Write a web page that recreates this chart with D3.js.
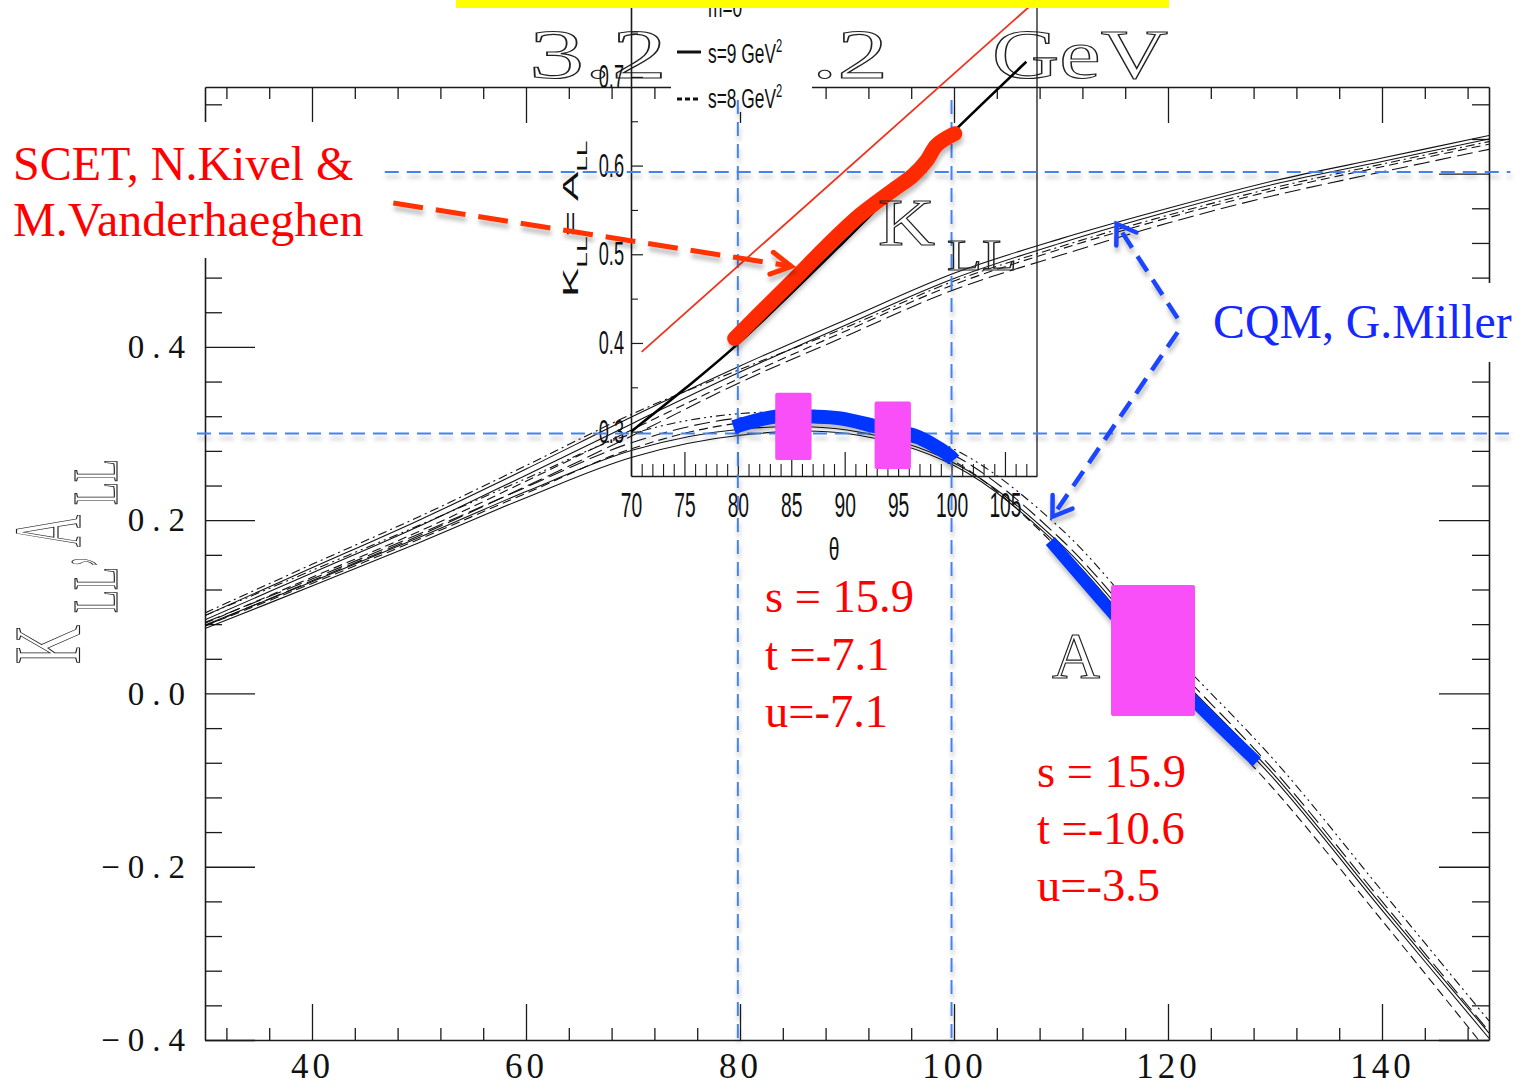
<!DOCTYPE html>
<html>
<head>
<meta charset="utf-8">
<title>K_LL and A_LL versus scattering angle</title>
<script src="https://cdn.jsdelivr.net/npm/d3@7/dist/d3.min.js"></script>
<style>
  html, body { margin: 0; padding: 0; background: #ffffff; }
  svg { display: block; }
</style>
</head>
<body>
<svg id="chart" width="1522" height="1086"></svg>
<script>
// ---------------------------------------------------------------
// Model curves: scattering angle grid (degrees) and K_LL / A_LL values
// ---------------------------------------------------------------
const thetaGrid = [30, 40, 50, 60, 70, 80, 90, 100, 110, 120, 130, 140, 150];

const kllSolidA   = [0.090, 0.145, 0.200, 0.259, 0.320, 0.378, 0.432, 0.485, 0.525, 0.560, 0.592, 0.618, 0.644];
const kllSolidB   = [0.085, 0.139, 0.193, 0.252, 0.312, 0.371, 0.426, 0.479, 0.520, 0.556, 0.588, 0.614, 0.640];
const kllDashed   = [0.081, 0.134, 0.187, 0.245, 0.305, 0.364, 0.419, 0.472, 0.513, 0.549, 0.581, 0.608, 0.634];
const kllDashDot  = [0.093, 0.149, 0.204, 0.263, 0.323, 0.374, 0.423, 0.476, 0.516, 0.552, 0.584, 0.611, 0.637];
const kllLongDash = [0.078, 0.130, 0.182, 0.239, 0.298, 0.359, 0.413, 0.466, 0.506, 0.543, 0.575, 0.602, 0.628];

const allSolidA   = [0.075, 0.124, 0.174, 0.226, 0.273, 0.298, 0.300, 0.263, 0.168, 0.028, -0.100, -0.250, -0.398];
const allSolidB   = [0.079, 0.129, 0.180, 0.233, 0.281, 0.305, 0.304, 0.266, 0.172, 0.033, -0.095, -0.245, -0.392];
const allDashed   = [0.078, 0.127, 0.178, 0.231, 0.283, 0.312, 0.310, 0.268, 0.164, 0.020, -0.112, -0.262, -0.415];
const allDashDot  = [0.090, 0.142, 0.194, 0.248, 0.300, 0.323, 0.320, 0.282, 0.190, 0.052, -0.078, -0.228, -0.378];
const allLongDash = [0.082, 0.132, 0.184, 0.238, 0.290, 0.318, 0.315, 0.275, 0.178, 0.040, -0.090, -0.240, -0.390];

// Main axes ticks
const xMajor = [40, 60, 80, 100, 120, 140];
const xTickLabels = ['40', '60', '80', '100', '120', '140'];
const yMajor = [-0.4, -0.2, 0, 0.2, 0.4, 0.6];
const yTickLabels = ['\u22120.4', '\u22120.2', '0.0', '0.2', '0.4', ''];

// Inset (K_LL = A_LL near 90 degrees)
const insetXMajor = [70, 75, 80, 85, 90, 95, 100, 105];
const insetXLabels = ['70', '75', '80', '85', '90', '95', '100', '105'];
const insetYMajor = [0.3, 0.4, 0.5, 0.6, 0.7];
const insetYLabels = ['0.3', '0.4', '0.5', '0.6', '0.7'];
const insetYMinor = [0.35, 0.45, 0.55, 0.65, 0.75];

const insetS9Theta = [70, 75, 80, 90, 100, 107];
const insetS9Value = [0.300, 0.348, 0.399, 0.515, 0.636, 0.717];
const insetRedTheta = [71, 108];
const insetRedValue = [0.390, 0.787];

// Highlighted bands
const scetTheta = [79.7, 82.1, 85.2, 88.3, 91.4, 94.6, 96.4, 97.7, 98.6, 100.3];
const scetValue = [0.405, 0.434, 0.471, 0.509, 0.544, 0.573, 0.589, 0.606, 0.623, 0.636];
const cqmInsetTheta = [79.6, 83.5, 87.1, 89.6, 92.9, 96.4, 98.3, 99.9, 100.2];
const cqmInsetValue = [0.305, 0.317, 0.317, 0.315, 0.306, 0.296, 0.285, 0.272, 0.268];
const cqmMainTheta = [109.0, 120.0, 128.3];
const cqmMainValue = [0.176, 0.022, -0.079];

// Projected measurements (centre angle, angular width, centre value, half height)
const boxTheta = [85.2, 94.5, 118.6];
const boxWidth = [3.4, 3.4, 7.85];
const boxValue = [0.306, 0.296, 0.0495];
const boxHalf  = [0.038, 0.038, 0.0756];
const boxFrame = ['inset', 'inset', 'main'];

// Guide lines (vertical ones sit on the inset angle ticks)
const guideTheta = [80, 100];
const guideThetaSpan = [0.685, -0.406];
const guideValue = [0.602, 0.3];
const guideValueStart = [46.8, 29.25];
const guideValueEnd = 152;

// Annotation arrows: [theta, value] pairs, from -> tip
const scetArrow = [[47.6, 0.566], [84.8, 0.493]];
const cqmArrowUp = [[120.9, 0.433], [115.2, 0.542]];
const cqmArrowDown = [[120.9, 0.417], [109.2, 0.204]];

// Kinematics labels
const kinematicsLeft = ['s = 15.9', 't =-7.1', 'u=-7.1'];
const kinematicsRight = ['s = 15.9', 't =-10.6', 'u=-3.5'];

// ---------------------------------------------------------------
const MAIN = { left: 205, right: 1489, top: 87, bottom: 1040 };
const x = d3.scaleLinear().domain([30, 150]).range([MAIN.left, MAIN.right]);
const y = d3.scaleLinear().domain([-0.4, 0.7]).range([MAIN.bottom, MAIN.top]);

const INSET = { left: 631, right: 1037, top: 0, bottom: 476 };
const xi = d3.scaleLinear().domain([70, 108]).range([INSET.left, INSET.right]);
const yi = d3.scaleLinear().domain([0.25, 0.7867]).range([INSET.bottom, INSET.top]);

const svg = d3.select('#chart');
svg.append('rect').attr('width', 1522).attr('height', 1086).attr('fill', '#fff');
const defs = svg.append('defs');
defs.append('clipPath').attr('id', 'mainClip').append('rect')
  .attr('x', MAIN.left).attr('y', MAIN.top)
  .attr('width', MAIN.right - MAIN.left).attr('height', MAIN.bottom - MAIN.top);
const shadow = defs.append('filter').attr('id', 'softShadow')
  .attr('filterUnits', 'userSpaceOnUse')
  .attr('x', 0).attr('y', 0).attr('width', 1522).attr('height', 1086);
shadow.append('feDropShadow').attr('dx', 1).attr('dy', 5).attr('stdDeviation', 2.2)
  .attr('flood-color', '#000').attr('flood-opacity', 0.25);

const INK = '#1b1b1b';
const SERIF = "'Liberation Serif', 'Times New Roman', serif";
const SANS = "'Liberation Sans', Arial, sans-serif";

function drawAxis(axis, tx, ty, opts = {}) {
  const g = svg.append('g').attr('transform', `translate(${tx},${ty})`).call(axis);
  g.selectAll('.tick line').attr('stroke', INK).attr('stroke-width', opts.tw || 1.3);
  if (opts.noDomain) g.select('.domain').remove();
  else g.select('.domain').attr('stroke', INK).attr('stroke-width', opts.dw || 1.6);
  return g;
}

// ---------------- main frame and ticks ----------------
const xMinor = d3.range(32, 150, 4).filter(v => !xMajor.includes(v));
const yMinor = d3.range(1, 28).filter(i => i % 5 !== 0).map(i => +(-0.4 + 0.04 * i).toFixed(2));

const gBottom = drawAxis(d3.axisBottom(x).tickValues(xMajor).tickSize(-36).tickSizeOuter(0)
  .tickPadding(13).tickFormat(d => xTickLabels[xMajor.indexOf(d)]), 0, MAIN.bottom);
gBottom.selectAll('text').attr('font-family', SERIF).attr('font-size', 35)
  .attr('letter-spacing', 4).attr('fill', '#111');
drawAxis(d3.axisBottom(x).tickValues(xMinor).tickSize(-12).tickFormat(''), 0, MAIN.bottom, { noDomain: true });

drawAxis(d3.axisTop(x).tickValues(xMajor).tickSize(-36).tickSizeOuter(0).tickFormat(''), 0, MAIN.top);
drawAxis(d3.axisTop(x).tickValues(xMinor).tickSize(-12).tickFormat(''), 0, MAIN.top, { noDomain: true });

const gLeft = drawAxis(d3.axisLeft(y).tickValues(yMajor).tickSize(-50).tickSizeOuter(0)
  .tickPadding(12).tickFormat(d => yTickLabels[yMajor.indexOf(d)]), MAIN.left, 0);
gLeft.selectAll('text').attr('font-family', SERIF).attr('font-size', 33)
  .attr('letter-spacing', 8).attr('fill', '#111');
gLeft.selectAll('text').filter(function () { return this.textContent === ''; }).remove();
drawAxis(d3.axisLeft(y).tickValues(yMinor).tickSize(-17).tickFormat(''), MAIN.left, 0, { noDomain: true });

drawAxis(d3.axisRight(y).tickValues(yMajor).tickSize(-50).tickSizeOuter(0).tickFormat(''), MAIN.right, 0);
drawAxis(d3.axisRight(y).tickValues(yMinor).tickSize(-17).tickFormat(''), MAIN.right, 0, { noDomain: true });

// ---------------- model curves ----------------
const curveLine = d3.line()
  .x((d, i) => x(thetaGrid[i]))
  .y(d => y(d))
  .curve(d3.curveCatmullRom.alpha(0.5));

const modelSeries = [
  { v: kllSolidA, dash: null }, { v: kllSolidB, dash: null },
  { v: kllDashed, dash: '9,5' }, { v: kllDashDot, dash: '9,4,2,4' },
  { v: kllLongDash, dash: '16,6' },
  { v: allSolidA, dash: null }, { v: allSolidB, dash: null },
  { v: allDashed, dash: '9,5' }, { v: allDashDot, dash: '9,4,2,4,2,4' },
  { v: allLongDash, dash: '16,6' }
];
svg.append('g').attr('clip-path', 'url(#mainClip)')
  .selectAll('path').data(modelSeries).join('path')
  .attr('d', d => curveLine(d.v))
  .attr('fill', 'none').attr('stroke', '#111').attr('stroke-width', 1.1)
  .attr('stroke-dasharray', d => d.dash);

// ---------------- big outlined title glyphs ----------------
function outlinedText(parent, str, px, py, size, len) {
  const t = parent.append('text').attr('x', px).attr('y', py)
    .attr('font-family', SERIF).attr('font-size', size)
    .attr('fill', 'none').attr('stroke', '#222').attr('stroke-width', 1.15)
    .text(str);
  if (len) t.attr('textLength', len).attr('lengthAdjust', 'spacingAndGlyphs');
  return t;
}
const titleG = svg.append('g');
outlinedText(titleG, '3.2', 529, 78, 70, 138);
outlinedText(titleG, '.2', 812, 78, 70, 76);
outlinedText(titleG, 'GeV', 992, 78, 70, 176);

// ---------------- white label backgrounds ----------------
svg.append('rect').attr('x', 0).attr('y', 122).attr('width', 378).attr('height', 136).attr('fill', '#fff');
svg.append('rect').attr('x', 1200).attr('y', 283).attr('width', 322).attr('height', 79).attr('fill', '#fff');
svg.append('rect').attr('x', 671).attr('y', 0).attr('width', 141).attr('height', 112).attr('fill', '#fff');

// ---------------- inset frame, ticks and labels ----------------
const insetXMinor = d3.range(71, 108, 1).filter(v => v % 5 !== 0);
const gIB = drawAxis(d3.axisBottom(xi).tickValues(insetXMajor).tickSize(-24).tickSizeOuter(0)
  .tickPadding(16).tickFormat(d => insetXLabels[insetXMajor.indexOf(d)]), 0, INSET.bottom, { tw: 1.2 });
gIB.selectAll('text').attr('font-family', SANS).attr('font-size', 35).attr('fill', '#111')
  .attr('transform', 'scale(0.55,1)');
drawAxis(d3.axisBottom(xi).tickValues(insetXMinor).tickSize(-12).tickFormat(''), 0, INSET.bottom, { noDomain: true, tw: 1.1 });

const gIL = drawAxis(d3.axisLeft(yi).tickValues(insetYMajor).tickSize(-12).tickSizeOuter(0)
  .tickPadding(6).tickFormat(d => insetYLabels[insetYMajor.indexOf(d)]), INSET.left, 0, { tw: 1.2 });
gIL.selectAll('text').attr('font-family', SANS).attr('font-size', 33).attr('fill', '#111')
  .attr('x', -7 / 0.55).attr('transform', 'scale(0.55,1)');
drawAxis(d3.axisLeft(yi).tickValues(insetYMinor).tickSize(-7).tickFormat(''), INSET.left, 0, { noDomain: true, tw: 1.1 });
svg.append('line').attr('x1', INSET.right).attr('x2', INSET.right)
  .attr('y1', yi(0.7867)).attr('y2', yi(0.25)).attr('stroke', INK).attr('stroke-width', 1.3);

// inset axis titles
svg.append('text').attr('transform', 'translate(834,560) scale(0.6,1)')
  .attr('text-anchor', 'middle').attr('font-family', SANS).attr('font-size', 32)
  .attr('fill', '#111').text('\u03b8');
const insetYTitle = svg.append('text').attr('transform', 'translate(578,297) rotate(-90) scale(2.0,1)')
  .attr('font-family', SANS).attr('font-size', 22).attr('fill', '#111');
insetYTitle.append('tspan').text('K');
insetYTitle.append('tspan').attr('font-size', 14).attr('dy', 9).text('LL');
insetYTitle.append('tspan').attr('dy', -9).text('= A');
insetYTitle.append('tspan').attr('font-size', 14).attr('dy', 9).text('LL');

// inset legend
const leg = svg.append('g').attr('font-family', SANS).attr('fill', '#111');
leg.append('text').attr('transform', 'translate(708,17) scale(0.62,1)').attr('font-size', 28).text('m=0');
leg.append('line').attr('x1', 677).attr('x2', 701).attr('y1', 52).attr('y2', 52)
  .attr('stroke', '#111').attr('stroke-width', 3);
const l1 = leg.append('text').attr('transform', 'translate(708,63) scale(0.62,1)').attr('font-size', 28);
l1.append('tspan').text('s=9 GeV');
l1.append('tspan').attr('font-size', 18).attr('dy', -11).text('2');
leg.append('line').attr('x1', 677).attr('x2', 701).attr('y1', 99).attr('y2', 99)
  .attr('stroke', '#111').attr('stroke-width', 3).attr('stroke-dasharray', '5,3');
const l2 = leg.append('text').attr('transform', 'translate(708,108) scale(0.62,1)').attr('font-size', 28);
l2.append('tspan').text('s=8 GeV');
l2.append('tspan').attr('font-size', 18).attr('dy', -11).text('2');

// ---------------- guide lines ----------------
const guides = svg.append('g').attr('filter', 'url(#softShadow)')
  .attr('stroke', '#4582ef').attr('stroke-width', 2).attr('stroke-dasharray', '14,8').attr('fill', 'none');
guideTheta.forEach(t => {
  guides.append('line').attr('x1', xi(t)).attr('x2', xi(t))
    .attr('y1', y(guideThetaSpan[0])).attr('y2', y(guideThetaSpan[1]));
});
guideValue.forEach((v, i) => {
  guides.append('line').attr('x1', x(guideValueStart[i])).attr('x2', x(guideValueEnd))
    .attr('y1', y(v)).attr('y2', y(v));
});

// ---------------- inset curves ----------------
const insetLine = (thetas) => d3.line()
  .x((d, i) => xi(thetas[i])).y(d => yi(d))
  .curve(d3.curveCatmullRom.alpha(0.5));
svg.append('path').attr('d', insetLine(insetRedTheta)(insetRedValue))
  .attr('fill', 'none').attr('stroke', '#f0321c').attr('stroke-width', 1.8);
svg.append('path').attr('d', insetLine(insetS9Theta)(insetS9Value))
  .attr('fill', 'none').attr('stroke', '#000').attr('stroke-width', 2.6);

// ---------------- highlighted bands ----------------
const bands = svg.append('g').attr('fill', 'none').attr('filter', 'url(#softShadow)');
bands.append('path').attr('d', insetLine(scetTheta)(scetValue))
  .attr('stroke', '#ff2a00').attr('stroke-width', 15).attr('stroke-linecap', 'round')
  .attr('stroke-linejoin', 'round');
bands.append('path').attr('d', insetLine(cqmInsetTheta)(cqmInsetValue))
  .attr('stroke', '#0636ff').attr('stroke-width', 14).attr('stroke-linecap', 'butt');
const mainBandLine = d3.line().x((d, i) => x(cqmMainTheta[i])).y(d => y(d))
  .curve(d3.curveCatmullRom.alpha(0.5));
bands.append('path').attr('d', mainBandLine(cqmMainValue))
  .attr('stroke', '#0636ff').attr('stroke-width', 12).attr('stroke-linecap', 'butt');

// ---------------- "A" label subscript (sits under the large box) ----------------
outlinedText(svg, 'LL', 1120, 703, 45, 58);

// ---------------- projected measurement boxes ----------------
svg.append('g').selectAll('rect').data(boxTheta.map((t, i) => i)).join('rect')
  .attr('x', i => (boxFrame[i] === 'inset' ? xi : x)(boxTheta[i] - boxWidth[i] / 2))
  .attr('width', i => {
    const sx = boxFrame[i] === 'inset' ? xi : x;
    return sx(boxTheta[i] + boxWidth[i] / 2) - sx(boxTheta[i] - boxWidth[i] / 2);
  })
  .attr('y', i => (boxFrame[i] === 'inset' ? yi : y)(boxValue[i] + boxHalf[i]))
  .attr('height', i => {
    const sy = boxFrame[i] === 'inset' ? yi : y;
    return sy(boxValue[i] - boxHalf[i]) - sy(boxValue[i] + boxHalf[i]);
  })
  .attr('rx', 2).attr('fill', '#f84ff8');

// ---------------- arrows ----------------
function arrow(pts, color, width, dash, headLen, headHalf) {
  const p0 = [x(pts[0][0]), y(pts[0][1])];
  const p1 = [x(pts[1][0]), y(pts[1][1])];
  const g = svg.append('g').attr('filter', 'url(#softShadow)').attr('fill', 'none')
    .attr('stroke', color).attr('stroke-width', width);
  g.append('line').attr('x1', p0[0]).attr('y1', p0[1]).attr('x2', p1[0]).attr('y2', p1[1])
    .attr('stroke-dasharray', dash);
  const dx = p1[0] - p0[0], dy = p1[1] - p0[1];
  const L = Math.hypot(dx, dy), ux = dx / L, uy = dy / L;
  const bx = p1[0] - ux * headLen, by = p1[1] - uy * headLen;
  g.append('path')
    .attr('d', `M${bx - uy * headHalf},${by + ux * headHalf}L${p1[0]},${p1[1]}L${bx + uy * headHalf},${by - ux * headHalf}`)
    .attr('stroke-linejoin', 'miter').attr('stroke-linecap', 'round');
}
arrow(scetArrow, '#ff3300', 5, '30,13', 20, 11);
arrow(cqmArrowUp, '#1a44ff', 4.5, '18,10', 18, 12);
arrow(cqmArrowDown, '#1a44ff', 4.5, '18,10', 18, 12);

// ---------------- outlined symbol labels ----------------
outlinedText(svg, 'K', 878, 245, 68, 57);
outlinedText(svg, 'LL', 947, 270, 45, 70);
outlinedText(svg, 'A', 1052, 678, 65, 48);

// vertical axis title K_LL, A_LL (reads bottom to top)
const yTitleParts = [
  { t: 'K', base: 80, start: 664, len: 39, size: 95 },
  { t: 'LL', base: 117, start: 613, len: 46, size: 64 },
  { t: ',', base: 82, start: 566, len: 9, size: 95 },
  { t: 'A', base: 80, start: 547, len: 32, size: 95 },
  { t: 'LL', base: 117, start: 505, len: 46, size: 64 }
];
const yTitle = svg.append('g');
yTitleParts.forEach(p => {
  yTitle.append('text')
    .attr('transform', `translate(${p.base},${p.start}) rotate(-90)`)
    .attr('font-family', SERIF).attr('font-size', p.size)
    .attr('fill', 'none').attr('stroke', '#222').attr('stroke-width', 1.15)
    .attr('textLength', p.len).attr('lengthAdjust', 'spacingAndGlyphs')
    .text(p.t);
});

// ---------------- coloured annotation text ----------------
const scetLabel = svg.append('g').attr('font-family', SERIF).attr('font-size', 48).attr('fill', '#ff0000');
scetLabel.append('text').attr('x', 13).attr('y', 180).text('SCET, N.Kivel &');
scetLabel.append('text').attr('x', 13).attr('y', 236).text('M.Vanderhaeghen');

svg.append('text').attr('x', 1213).attr('y', 338).attr('font-family', SERIF)
  .attr('font-size', 47.8).attr('fill', '#1428ff').text('CQM, G.Miller');

const kinL = svg.append('g').attr('font-family', SERIF).attr('font-size', 46.5).attr('fill', '#ff0000');
kinematicsLeft.forEach((s, i) => kinL.append('text').attr('x', 765).attr('y', 612 + i * 57.5).text(s));
const kinR = svg.append('g').attr('font-family', SERIF).attr('font-size', 46.5).attr('fill', '#ff0000');
kinematicsRight.forEach((s, i) => kinR.append('text').attr('x', 1037).attr('y', 787 + i * 57).text(s));

// ---------------- top banner ----------------
svg.append('rect').attr('x', 456).attr('y', 0).attr('width', 713).attr('height', 8).attr('fill', '#ffff00');
</script>
</body>
</html>
